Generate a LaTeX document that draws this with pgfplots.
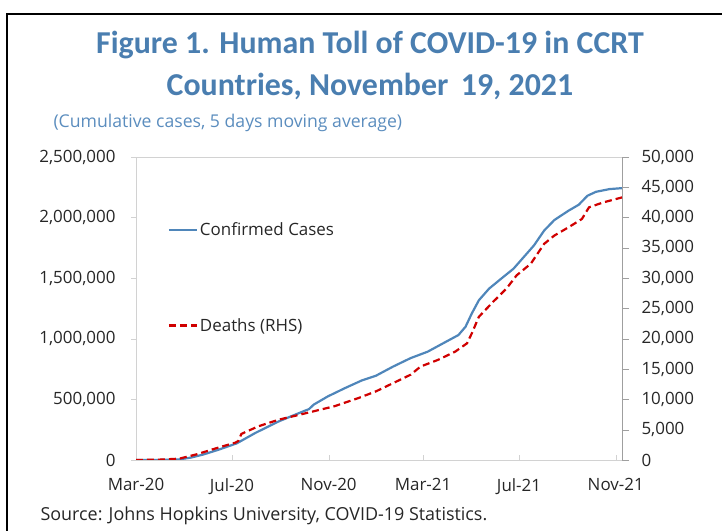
\documentclass[border=0pt]{standalone}
\usepackage{pgfplots}
\pgfplotsset{compat=1.18}
\usepackage{fontspec}
\setmainfont{Open Sans}
\newfontfamily\titlefont{Carlito}
\definecolor{titleblue}{HTML}{4A7EB0}
\definecolor{subblue}{HTML}{5B8DBE}
\definecolor{casesblue}{HTML}{4F86BA}
\definecolor{deathred}{HTML}{D00000}
\definecolor{txt}{HTML}{262626}
\begin{document}
\begin{tikzpicture}[x=1bp,y=1bp]
\useasboundingbox (0,0) rectangle (722,531);
\begin{scope}
\clip (0,0) rectangle (722,531);
\draw[line width=2bp,black] (7,-10) -- (7,517) -- (740,517);
\end{scope}
\node[titleblue,font=\titlefont\bfseries\fontsize{32}{36}\selectfont] at (370,486) {Figure 1. Human Toll of COVID-19 in CCRT};
\node[titleblue,font=\titlefont\bfseries\fontsize{32}{36}\selectfont] at (370,445) {Countries, November\, 19, 2021};
\node[subblue,anchor=west,font=\fontsize{17.7}{20}\selectfont] at (50,408) {(Cumulative cases, 5 days moving average)};
\node[txt,anchor=west,font=\fontsize{18}{20}\selectfont] at (37,15) {Source: Johns Hopkins University, COVID-19 Statistics.};

\begin{axis}[
  at={(136bp,71bp)}, anchor=south west,
  scale only axis, width=486bp, height=303bp,
  xmin=0, xmax=618, ymin=0, ymax=2500000,
  axis line style={draw=gray!35},
  xtick={0,122,245,365,487,610},
  xticklabels={Mar-20,Jul-20,Nov-20,Mar-21,Jul-21,Nov-21},
  ytick={0,500000,1000000,1500000,2000000,2500000},
  scaled y ticks=false,
  yticklabel style={/pgf/number format/fixed,/pgf/number format/1000 sep={,}, xshift=-12bp},
  /pgf/number format/assume math mode=true,
  tick label style={font=\fontsize{17}{19}\selectfont, text=txt},
  xtick align=inside, ytick align=outside,
  major tick length=5bp,
  tick style={draw=gray!35},
  ytick pos=left, xtick pos=bottom,
  xticklabel style={yshift=-15bp},
  legend style={at={(rel axis cs:0.065,0.79)},anchor=north west,draw=none,fill=none,
    font=\fontsize{17}{19}\selectfont, text=txt, row sep=77bp,
    legend cell align=left, inner sep=0pt},
  legend image code/.code={\draw[#1] (0bp,0bp) -- (28bp,0bp);},
]
\addplot[casesblue, line width=2.2bp] coordinates {
(0,0) (30,800) (55,5000) (70,20000) (86,46000) (105,85000) (128,137000) (152,224000)
(182,320000) (213,402000) (220,420000) (226,457000) (244,525000) (266,594000)
(287,656000) (305,695000) (327,771000) (349,840000) (371,894000) (392,968000)
(410,1031000) (419,1099000) (427,1209000) (436,1318000) (449,1414000) (467,1510000)
(480,1578000) (493,1674000) (506,1770000) (519,1893000) (532,1980000) (550,2057000)
(563,2106000) (574,2180000) (585,2213000) (602,2235000) (618,2243000)
};
\addlegendentry{Confirmed Cases}
\addlegendimage{deathred, line width=2.2bp, dash pattern=on 7bp off 4bp}
\addlegendentry{Deaths (RHS)}
\end{axis}

\begin{axis}[
  at={(136bp,71bp)}, anchor=south west,
  scale only axis, width=486bp, height=303bp,
  xmin=0, xmax=618, ymin=0, ymax=50000,
  axis x line=none,
  axis y line*=right,
  y axis line style={draw=gray!75},
  ytick={0,5000,...,50000},
  scaled y ticks=false,
  yticklabel style={/pgf/number format/fixed,/pgf/number format/1000 sep={,}, anchor=west, xshift=9bp},
  /pgf/number format/assume math mode=true,
  tick label style={font=\fontsize{17}{19}\selectfont, text=txt},
  ytick align=outside, major tick length=7bp,
  tick style={draw=gray!75},
]
\addplot[deathred, line width=2.2bp, dash pattern=on 7bp off 4bp] coordinates {
(0,0) (30,60) (55,220) (77,930) (104,2020) (126,2845) (130,3120) (134,4300) (139,4600)
(156,5580) (182,6670) (209,7500) (226,8040) (252,8860) (283,10230) (305,11320)
(327,12690) (349,14060) (362,15430) (384,16520) (406,17890) (421,19260) (427,20900)
(436,23630) (454,26090) (471,28280) (484,30470) (502,32390) (519,35670) (532,37040)
(550,38400) (567,39770) (576,41690) (594,42500) (618,43330)
};
\end{axis}
\end{tikzpicture}
\end{document}
